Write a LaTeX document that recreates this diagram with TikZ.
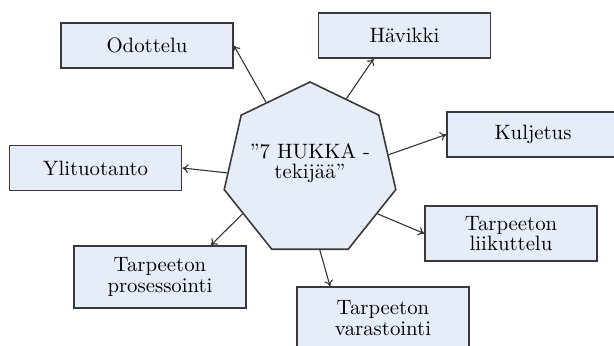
\documentclass[tikz,border=0pt]{standalone}
\usepackage{tikz}
\usetikzlibrary{arrows.meta,shapes.geometric}
\definecolor{laatikkosini}{HTML}{E6EDF8}
\definecolor{reuna}{HTML}{3A3A3A}
\tikzset{%
	laatikko/.style = {draw=reuna, line width=0.8pt, fill=laatikkosini, rectangle, minimum width=86pt, minimum height=22.5pt, align=center, inner sep=2pt},
	hepta/.style    = {draw=reuna, line width=0.8pt, fill=laatikkosini, regular polygon, regular polygon sides=7, minimum size=88pt, inner sep=0pt},
	nuoli/.style    = {draw=reuna!90!black, line width=0.55pt, -{To[length=3pt,width=4.5pt]}},
}

\begin{document}
\begin{tikzpicture}[x=0.5pt,y=-0.5pt,font=\fontsize{10.4}{10.2}\selectfont]
	\useasboundingbox (0,0) rectangle (614,345);
	% keskus
	\node [hepta] (hukka) at (310,170) {};
	\node [align=center,yshift=3.5pt] (hukkateksti) at (hukka) {”7 HUKKA -\\tekijää”};
	
	% laatikot
	\node [laatikko] (odottelu) at (147,45.5) {Odottelu};
	\node [laatikko] (havikki) at (404.5,35.5) {Hävikki};
	\node [laatikko] (kuljetus) at (533,134.5) {Kuljetus};
	\node [laatikko] (ylituotanto) at (95.5,168) {Ylituotanto};
	\node [laatikko,minimum height=31pt] (prosessointi) at (160,277) {Tarpeeton\\prosessointi};
	\node [laatikko,minimum height=27.5pt] (liikuttelu) at (511,233.5) {Tarpeeton\\liikuttelu};
	\node [laatikko,minimum height=31pt] (varastointi) at (383,318) {Tarpeeton\\varastointi};
	
	\draw[nuoli] (hukka.123) -- (odottelu.east);
	\draw[nuoli] (hukka.63) -- (havikki.217);
	\draw[nuoli] (hukka.11) -- (kuljetus.west);
	\draw[nuoli] (hukka.182) -- (ylituotanto.east);
	\draw[nuoli] (hukka.213) -- (prosessointi.32);
	\draw[nuoli] (hukka.327) -- (liikuttelu.west);
	\draw[nuoli] (hukka.277) -- (varastointi.149);
\end{tikzpicture}
\end{document}
